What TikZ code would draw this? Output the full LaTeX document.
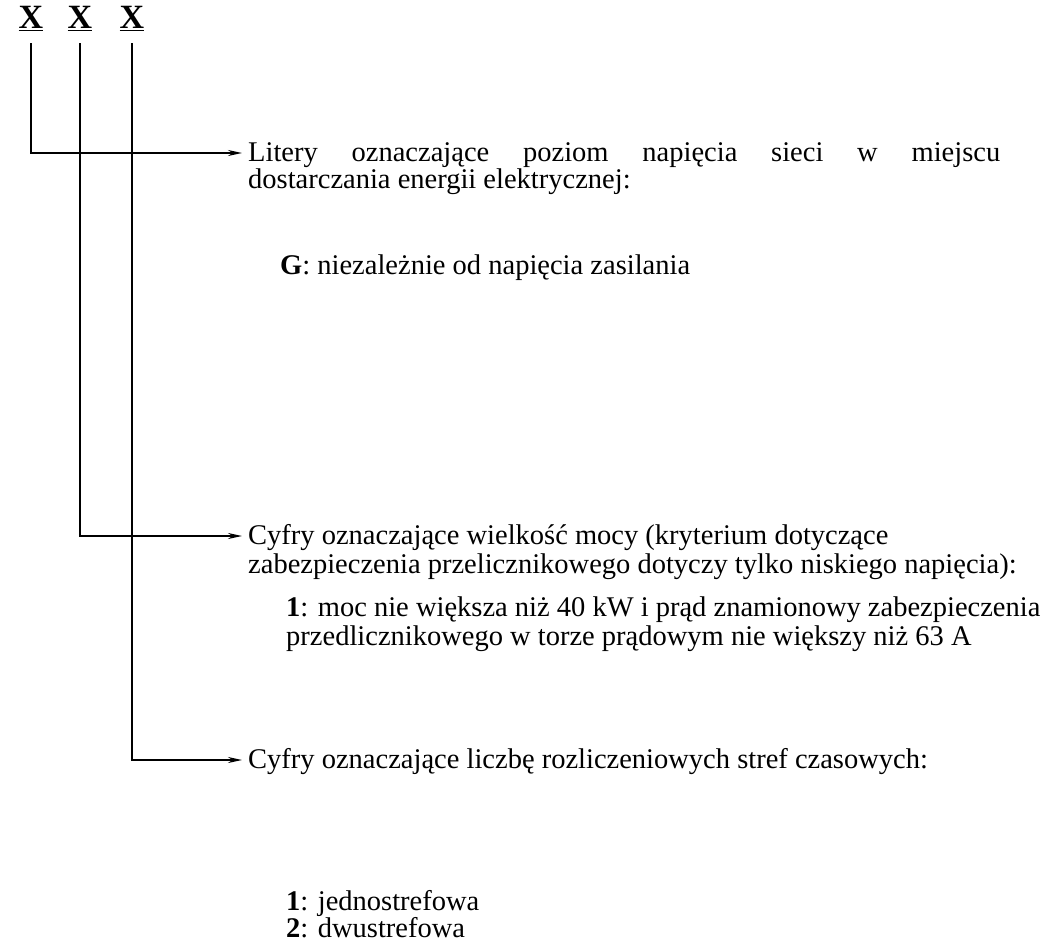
\documentclass[tikz,border=0pt]{standalone}
\usepackage{fontspec}
\setmainfont{Liberation Serif}
\usetikzlibrary{arrows.meta}

\begin{document}
\begin{tikzpicture}[x=1pt,y=-1pt,
  digit/.style={font=\fontsize{34}{34}\selectfont\bfseries, inner sep=0pt, anchor=base},
  txt/.style={font=\fontsize{28.5}{30}\selectfont, inner sep=0pt, anchor=base west},
  link/.style={line width=1.8pt, -{Stealth[length=14pt,width=6pt]}}]
\useasboundingbox (0,0) rectangle (1047,947);
% symbol positions
\node[digit] (x1) at (31,29) {\underline{X}};
\node[digit] (x2) at (80,29) {\underline{X}};
\node[digit] (x3) at (132,29) {\underline{X}};
% first group
\node[txt] (l1) at (248,161) {\makebox[752pt][s]{Litery oznaczające poziom napięcia sieci w miejscu}};
\node[txt] (l2) at (248,189) {dostarczania energii elektrycznej:};
\node[txt] (g) at (280,274) {\textbf{G}: niezależnie od napięcia zasilania};
% second group
\node[txt] (c1) at (248,544) {Cyfry oznaczające wielkość mocy (kryterium dotyczące};
\node[txt] (c2) at (248,573) {zabezpieczenia przelicznikowego dotyczy tylko niskiego napięcia):};
\node[txt] (m1) at (286,616) {\textbf{1}: moc nie większa niż 40 kW i prąd znamionowy zabezpieczenia};
\node[txt] (m2) at (286,645) {przedlicznikowego w torze prądowym nie większy niż 63 A};
% third group
\node[txt] (s1) at (248,768) {Cyfry oznaczające liczbę rozliczeniowych stref czasowych:};
\node[txt] (s2) at (286,910) {\textbf{1}: jednostrefowa};
\node[txt] (s3) at (286,937) {\textbf{2}: dwustrefowa};
% connectors
\draw[link] ([yshift=-12pt]x1.south) |- ([xshift=-6pt,yshift=8pt]l1.base west);
\draw[link] ([yshift=-12pt]x2.south) |- ([xshift=-6pt,yshift=8pt]c1.base west);
\draw[link] ([yshift=-12pt]x3.south) |- ([xshift=-6pt,yshift=8pt]s1.base west);
\end{tikzpicture}
\end{document}
